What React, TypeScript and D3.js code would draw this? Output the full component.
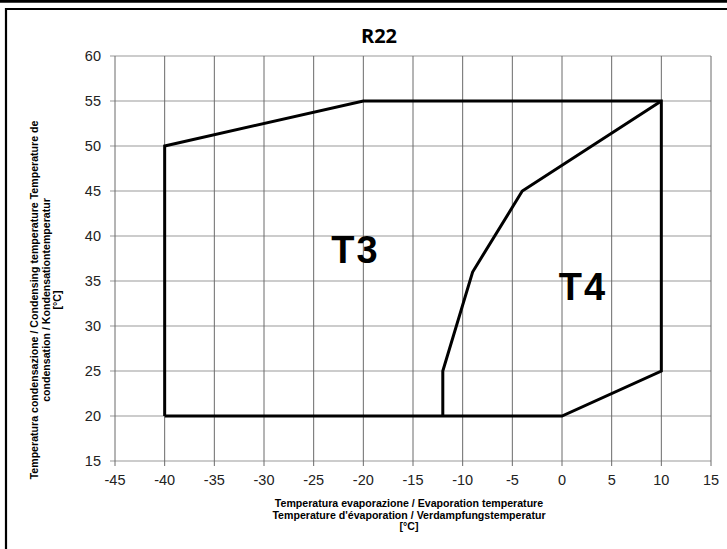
import React, { useEffect, useRef } from "react";
import * as d3 from "d3";

// envelope data (evaporation temp, condensing temp)
const outerEnvelope: [number, number][] = [
  [-40, 20], [-40, 50], [-20, 55], [10, 55], [10, 25], [0, 20], [-40, 20],
];
const dividerLine: [number, number][] = [
  [10, 55], [-4, 45], [-9, 36], [-12, 25], [-12, 20],
];
const zoneLabels = ["T3", "T4"];
const zoneLabelPos: [number, number][] = [[-20.8, 37], [2.1, 32.9]];

const xTicks = [-45, -40, -35, -30, -25, -20, -15, -10, -5, 0, 5, 10, 15];
const yTicks = [15, 20, 25, 30, 35, 40, 45, 50, 55, 60];

const title = "R22";
const xTitle = [
  "Temperatura evaporazione / Evaporation temperature",
  "Temperature d'évaporation /  Verdampfungstemperatur",
  "[°C]",
];
const yTitle = [
  "Temperatura condensazione / Condensing temperature  Temperature de",
  "condensation / Kondensationtemperatur",
  "[°C]",
];

const W = 727;
const H = 549;

function EnvelopeChart() {
  const svgRef = useRef<SVGSVGElement>(null);

  useEffect(() => {
    const svg = d3.select(svgRef.current);
    svg.selectAll("*").remove();

    const x = d3.scaleLinear().domain([-45, 15]).range([115, 711]);
    const y = d3.scaleLinear().domain([15, 60]).range([461, 56]);
    const font = "Arial, 'Liberation Sans', sans-serif";

    // outer frame
    svg.append("line").attr("x1", 0).attr("x2", W).attr("y1", 1.3).attr("y2", 1.3)
      .attr("stroke", "#000").attr("stroke-width", 2.7);
    svg.append("path").attr("d", `M6,${H}V9H${W}`)
      .attr("fill", "none").attr("stroke", "#000").attr("stroke-width", 2.2);

    // grid
    svg.append("g").selectAll("line").data(yTicks).join("line")
      .attr("x1", x(-45) - 5).attr("x2", x(15))
      .attr("y1", d => y(d)).attr("y2", d => y(d))
      .attr("stroke", "#9a9a9a").attr("stroke-width", 1.2);
    svg.append("g").selectAll("line").data(xTicks).join("line")
      .attr("x1", d => x(d)).attr("x2", d => x(d))
      .attr("y1", y(60)).attr("y2", y(15) + 5)
      .attr("stroke", "#6a6a6a").attr("stroke-width", 1);

    // tick labels
    svg.append("g").selectAll("text").data(yTicks).join("text")
      .attr("x", x(-45) - 14).attr("y", d => y(d) + 5)
      .attr("text-anchor", "end").attr("font-family", font).attr("font-size", 14.5)
      .attr("fill", "#222").text(d => d);
    svg.append("g").selectAll("text").data(xTicks).join("text")
      .attr("x", d => x(d)).attr("y", y(15) + 24)
      .attr("text-anchor", "middle").attr("font-family", font).attr("font-size", 14.5)
      .attr("fill", "#222").text(d => d);

    // envelope
    const line = d3.line<[number, number]>().x(d => x(d[0])).y(d => y(d[1]));
    svg.append("path").attr("d", line(outerEnvelope))
      .attr("fill", "none").attr("stroke", "#000").attr("stroke-width", 3)
      .attr("stroke-linejoin", "miter");
    svg.append("path").attr("d", line(dividerLine))
      .attr("fill", "none").attr("stroke", "#000").attr("stroke-width", 3)
      .attr("stroke-linejoin", "miter");

    svg.append("g").selectAll("text").data(zoneLabels).join("text")
      .attr("x", (d, i) => x(zoneLabelPos[i][0]))
      .attr("y", (d, i) => y(zoneLabelPos[i][1]))
      .attr("text-anchor", "middle").attr("font-family", font)
      .attr("font-weight", "bold").attr("font-size", 38).attr("letter-spacing", 2)
      .attr("fill", "#000").text(d => d);

    // title
    svg.append("text").attr("x", 379).attr("y", 43).attr("text-anchor", "middle")
      .attr("font-family", "'Open Sans', sans-serif").attr("font-weight", "bold")
      .attr("font-size", 20).attr("fill", "#000").text(title);

    // axis titles
    svg.append("g").selectAll("text").data(xTitle).join("text")
      .attr("x", 409).attr("y", (d, i) => 507 + i * 11.5)
      .attr("text-anchor", "middle").attr("font-family", font)
      .attr("font-weight", "bold").attr("font-size", 10.6).attr("fill", "#000")
      .text(d => d);
    svg.append("g").selectAll("text").data(yTitle).join("text")
      .attr("transform", (d, i) => `translate(${38 + i * 11.7},300) rotate(-90)`)
      .attr("text-anchor", "middle").attr("font-family", font)
      .attr("font-weight", "bold").attr("font-size", 10.6).attr("fill", "#000")
      .text(d => d);
  }, []);

  return (
    <svg ref={svgRef} width={W} height={H}
      style={{ position: "absolute", left: 0, top: 0, background: "#fff" }} />
  );
}

export default function App() {
  return <EnvelopeChart />;
}
